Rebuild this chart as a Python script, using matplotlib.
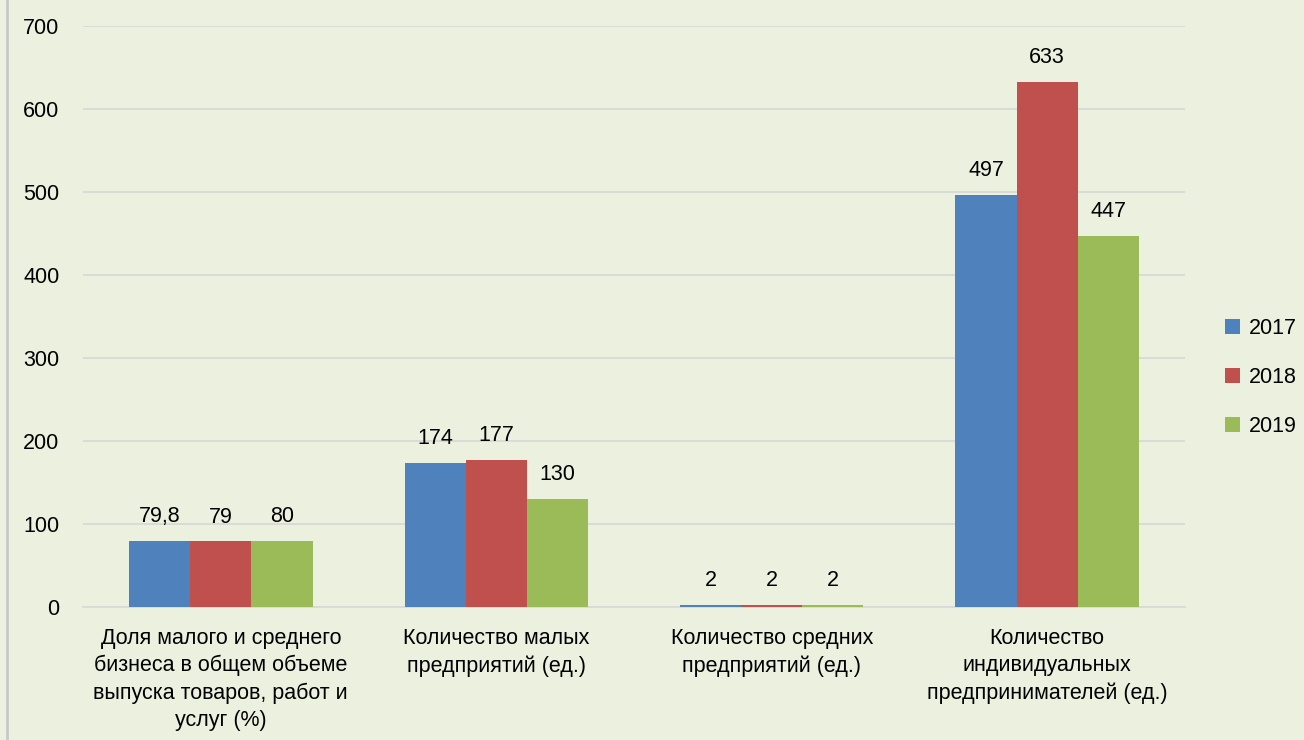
import numpy as np
import matplotlib.pyplot as plt
from matplotlib.lines import Line2D
from matplotlib.patches import Patch

categories = [
    "Доля малого и среднего\nбизнеса в общем объеме\nвыпуска товаров, работ и\nуслуг (%)",
    "Количество малых\nпредприятий (ед.)",
    "Количество средних\nпредприятий (ед.)",
    "Количество\nиндивидуальных\nпредпринимателей (ед.)",
]
years = ["2017", "2018", "2019"]
v2017 = [79.8, 174, 2, 497]
v2018 = [79, 177, 2, 633]
v2019 = [80, 130, 2, 447]
labels2017 = ["79,8", "174", "2", "497"]
labels2018 = ["79", "177", "2", "633"]
labels2019 = ["80", "130", "2", "447"]

colors = ["#4F81BD", "#C0504D", "#9BBB59"]
bg = "#EBF1DE"
fs = 15.5

plt.rcParams["font.family"] = ["Liberation Sans", "DejaVu Sans"]

fig = plt.figure(figsize=(13.04, 7.4), dpi=100, facecolor=bg)
ax = fig.add_axes([0.0637, 0.1797, 0.845, 0.785])
ax.set_facecolor(bg)

x = np.arange(len(categories))
w = 0.222
series = [v2017, v2018, v2019]
lab = [labels2017, labels2018, labels2019]
for i, (vals, ls) in enumerate(zip(series, lab)):
    pos = x + (i - 1) * w
    ax.bar(pos, vals, width=w, color=colors[i], zorder=3)
    for p, v, t in zip(pos, vals, ls):
        ax.annotate(t, (p, v), xytext=(0, 10), textcoords="offset points",
                    ha="center", va="bottom", fontsize=fs, color="#000000")

ax.set_xlim(-0.5, 3.5)
ax.set_ylim(0, 700)
ax.set_yticks(range(0, 701, 100))
ax.yaxis.grid(True, color="#D9D9D9", linewidth=1.3, zorder=0)
ax.set_axisbelow(True)
for s in ["top", "right", "left"]:
    ax.spines[s].set_visible(False)
ax.spines["bottom"].set_color("#D9D9D9")
ax.spines["bottom"].set_linewidth(1.3)
ax.tick_params(axis="both", length=0, labelsize=fs, colors="#000000")
ax.tick_params(axis="y", pad=17)
ax.set_xticks(x)
ax.set_xticklabels(categories, linespacing=1.38)
ax.tick_params(axis="x", pad=15)

handles = [Patch(facecolor=c, label=y) for c, y in zip(colors, years)]
leg = fig.legend(handles=handles, loc="center left", bbox_to_anchor=(0.933, 0.49),
                 frameon=False, fontsize=fs, handlelength=0.7, handleheight=0.7,
                 handletextpad=0.4, labelspacing=1.3, borderaxespad=0)

fig.add_artist(Line2D([7 / 1304, 7 / 1304], [0, 1], color="#C8C8C8", linewidth=2,
                      transform=fig.transFigure))

fig.savefig("out.png", dpi=100, facecolor=bg)
